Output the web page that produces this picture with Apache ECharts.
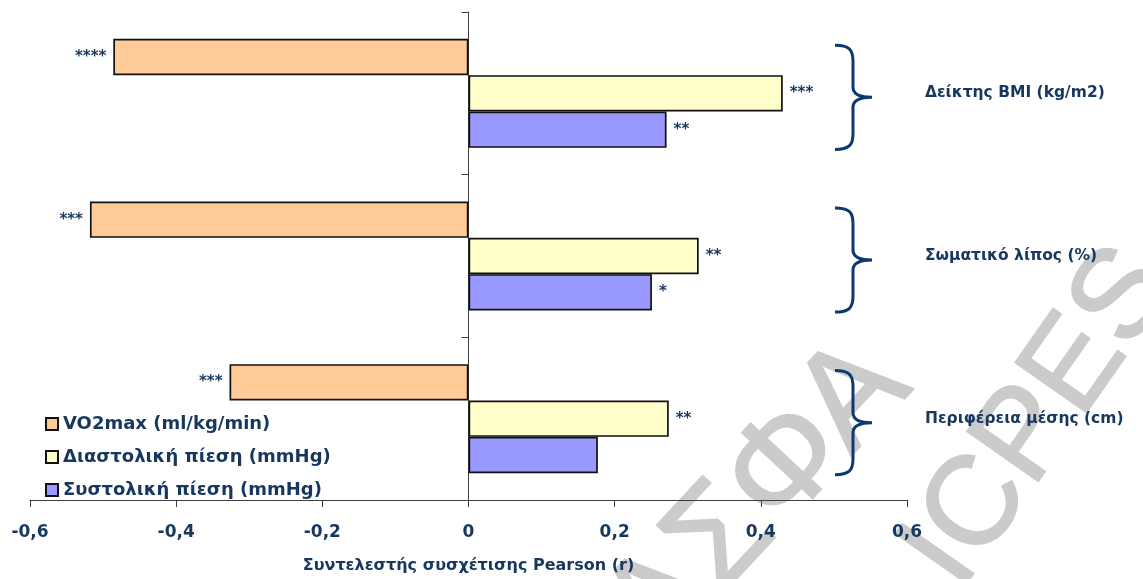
<!DOCTYPE html>
<html>
<head>
<meta charset="utf-8">
<script src="https://cdn.jsdelivr.net/npm/echarts@6/dist/echarts.min.js"></script>
<style>
  html, body { margin: 0; padding: 0; background: #ffffff; }
  #chart { width: 1143px; height: 579px; }
</style>
</head>
<body>
<div id="chart"></div>
<script>
// Anthropometric indices (one group each)
const categories = ['Δείκτης BMI (kg/m2)', 'Σωματικό λίπος (%)', 'Περιφέρεια μέσης (cm)'];

// Series names
const seriesNames = ['VO2max (ml/kg/min)', 'Διαστολική πίεση (mmHg)', 'Συστολική πίεση (mmHg)'];

// Pearson r for each index
const vo2max    = [-0.486, -0.518, -0.327];
const diastolic = [0.430, 0.315, 0.274];
const systolic  = [0.271, 0.251, 0.177];

// Significance marks next to each bar
const sigVo2max    = ['****', '***', '***'];
const sigDiastolic = ['***', '**', '**'];
const sigSystolic  = ['**', '*', ''];

// Value-axis ticks
const xTicks = [-0.6, -0.4, -0.2, 0, 0.2, 0.4, 0.6];

const NAVY = '#17375e';
const BRACE = '#0c3a6e';
const FONT = '"DejaVu Sans", Verdana, sans-serif';
const WM_FONT = '"Liberation Sans", Arial, sans-serif';
const WM_GRAY = '#cbcbcb';

const chart = echarts.init(document.getElementById('chart'), null, { renderer: 'canvas' });

function barSeries(name, values, marks, fill, side) {
  return {
    name: name,
    type: 'bar',
    data: values,
    barGap: '0%',
    barCategoryGap: '33%',
    itemStyle: { color: fill, borderColor: '#111111', borderWidth: 1.7 },
    label: {
      show: true,
      position: side,
      distance: 7,
      color: NAVY,
      fontFamily: FONT,
      fontWeight: 'bold',
      fontSize: 15,
      formatter: p => marks[p.dataIndex]
    },
    emphasis: { disabled: true },
    z: 3
  };
}

// Curly brace to the right of each group
function renderBrace(params, api) {
  const c = api.coord([api.value(0), api.value(1)]);
  const band = api.size([0, 1])[1];
  const xr = c[0];
  const yc = c[1] + 4;
  const h = band * 0.32;
  const x0 = xr - 72, xm = xr - 54, xt = xr - 35;
  const d = [
    'M', x0, yc - h,
    'C', x0 + 14, yc - h, xm, yc - h + 4, xm, yc - h + 16,
    'L', xm, yc - 10,
    'C', xm, yc - 3, xm + 6, yc, xt, yc,
    'C', xm + 6, yc, xm, yc + 3, xm, yc + 10,
    'L', xm, yc + h - 16,
    'C', xm, yc + h - 4, x0 + 14, yc + h, x0, yc + h
  ].join(' ');
  return {
    type: 'path',
    shape: { pathData: d },
    style: { stroke: BRACE, lineWidth: 3, fill: 'none' }
  };
}

const option = {
  backgroundColor: '#ffffff',
  animation: false,
  textStyle: { fontFamily: FONT },
  grid: { left: 30, right: 236, top: 12, bottom: 79, containLabel: false },
  legend: {
    data: seriesNames,
    orient: 'vertical',
    left: 40,
    top: 410,
    itemWidth: 12,
    itemHeight: 12,
    itemGap: 15,
    icon: 'rect',
    selectedMode: false,
    textStyle: { color: NAVY, fontFamily: FONT, fontWeight: 'bold', fontSize: 18 }
  },
  xAxis: {
    type: 'value',
    min: -0.6,
    max: 0.6,
    interval: 0.2,
    name: 'Συντελεστής συσχέτισης Pearson (r)',
    nameLocation: 'middle',
    nameGap: 58,
    nameTextStyle: { color: NAVY, fontFamily: FONT, fontWeight: 'bold', fontSize: 16 },
    axisLine: { show: true, onZero: false, lineStyle: { color: '#404040', width: 1 } },
    axisTick: { show: true, inside: false, length: 7, lineStyle: { color: '#404040' } },
    splitLine: { show: false },
    axisLabel: {
      margin: 24,
      color: NAVY,
      fontFamily: FONT,
      fontWeight: 'bold',
      fontSize: 17,
      formatter: v => {
        const t = xTicks.find(k => Math.abs(k - v) < 1e-9);
        return String(t === undefined ? v : t).replace('.', ',');
      }
    }
  },
  yAxis: [
    {
      type: 'category',
      data: categories,
      inverse: true,
      position: 'left',
      axisLine: { show: true, onZero: true, lineStyle: { color: '#404040', width: 1 } },
      axisTick: { show: true, length: 7, lineStyle: { color: '#404040' } },
      axisLabel: { show: false },
      splitLine: { show: false }
    },
    {
      type: 'category',
      data: categories,
      inverse: true,
      position: 'right',
      axisLine: { show: false },
      axisTick: { show: false },
      splitLine: { show: false },
      axisLabel: {
        margin: 18,
        align: 'left',
        color: NAVY,
        fontFamily: FONT,
        fontWeight: 'bold',
        fontSize: 15.5
      }
    }
  ],
  graphic: {
    elements: [
      {
        type: 'text', z: -10, silent: true,
        x: 758, y: 500, rotation: 47 * Math.PI / 180,
        style: { text: 'ΑΣΦΑ', fontSize: 138, fontFamily: WM_FONT, fontWeight: 'normal',
                 fill: WM_GRAY, stroke: WM_GRAY, lineWidth: 2,
                 align: 'center', verticalAlign: 'middle' }
      },
      {
        type: 'text', z: -10, silent: true,
        x: 1040, y: 418, rotation: 55 * Math.PI / 180,
        style: { text: 'ICPES', fontSize: 126, fontFamily: WM_FONT, fontWeight: 'normal',
                 fill: WM_GRAY, stroke: WM_GRAY, lineWidth: 2,
                 align: 'center', verticalAlign: 'middle' }
      }
    ]
  },
  series: [
    barSeries(seriesNames[0], vo2max, sigVo2max, '#ffcc99', 'left'),
    barSeries(seriesNames[1], diastolic, sigDiastolic, '#ffffcc', 'right'),
    barSeries(seriesNames[2], systolic, sigSystolic, '#9999ff', 'right'),
    {
      type: 'custom',
      renderItem: renderBrace,
      data: categories.map(c => [0.6, c]),
      encode: { x: 0, y: 1 },
      clip: false,
      silent: true,
      z: 4
    }
  ]
};

chart.setOption(option);
</script>
</body>
</html>
